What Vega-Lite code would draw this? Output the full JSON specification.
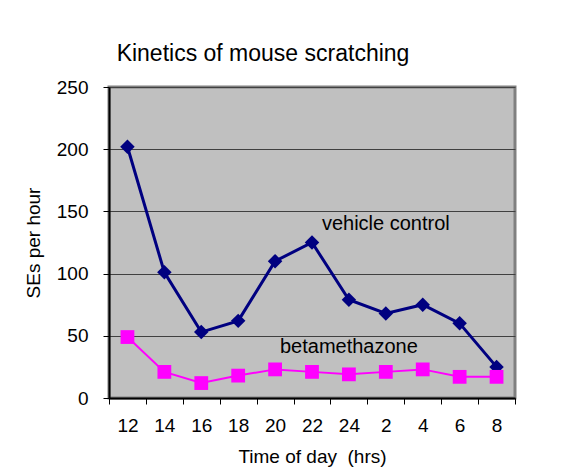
{
  "$schema": "https://vega.github.io/schema/vega-lite/v6.json",
  "width": 406,
  "height": 311,
  "autosize": {"type": "none"},
  "padding": {"left": 109, "top": 87, "right": 51, "bottom": 73},
  "background": "white",
  "config": {
    "font": "Liberation Sans",
    "view": {"fill": "#C0C0C0", "stroke": "#808080", "strokeWidth": 3}
  },
  "title": {
    "text": "Kinetics of mouse scratching",
    "fontSize": 23,
    "font": "Liberation Sans",
    "fontWeight": "normal",
    "color": "black",
    "anchor": "middle",
    "frame": "group",
    "dx": -49,
    "offset": 12
  },
  "datasets": {
    "series": [
      {"time": "12", "series": "vehicle control", "value": 202},
      {"time": "14", "series": "vehicle control", "value": 101},
      {"time": "16", "series": "vehicle control", "value": 53},
      {"time": "18", "series": "vehicle control", "value": 62},
      {"time": "20", "series": "vehicle control", "value": 110},
      {"time": "22", "series": "vehicle control", "value": 125},
      {"time": "24", "series": "vehicle control", "value": 79},
      {"time": "2", "series": "vehicle control", "value": 68},
      {"time": "4", "series": "vehicle control", "value": 75},
      {"time": "6", "series": "vehicle control", "value": 60},
      {"time": "8", "series": "vehicle control", "value": 25},
      {"time": "12", "series": "betamethazone", "value": 49},
      {"time": "14", "series": "betamethazone", "value": 21},
      {"time": "16", "series": "betamethazone", "value": 12},
      {"time": "18", "series": "betamethazone", "value": 18},
      {"time": "20", "series": "betamethazone", "value": 23},
      {"time": "22", "series": "betamethazone", "value": 21},
      {"time": "24", "series": "betamethazone", "value": 19},
      {"time": "2", "series": "betamethazone", "value": 21},
      {"time": "4", "series": "betamethazone", "value": 23},
      {"time": "6", "series": "betamethazone", "value": 17},
      {"time": "8", "series": "betamethazone", "value": 17}
    ],
    "labels": [
      {"time": "2", "value": 140, "label": "vehicle control"},
      {"time": "24", "value": 41, "label": "betamethazone"}
    ]
  },
  "encoding": {
    "x": {
      "field": "time",
      "type": "ordinal",
      "sort": ["12", "14", "16", "18", "20", "22", "24", "2", "4", "6", "8"],
      "scale": {"paddingInner": 0, "paddingOuter": 0},
      "axis": {
        "title": "Time of day\u00a0 (hrs)",
        "titleFont": "Liberation Sans",
        "titleFontSize": 19,
        "titleFontWeight": "normal",
        "titleColor": "black",
        "titlePadding": 12,
        "labelAngle": 0,
        "labelFontSize": 19,
        "labelColor": "black",
        "labelPadding": 12,
        "tickBand": "extent",
        "tickSize": 6,
        "tickColor": "black",
        "domainColor": "black",
        "domainWidth": 2,
        "grid": false
      }
    },
    "y": {
      "field": "value",
      "type": "quantitative",
      "scale": {"domain": [0, 250], "nice": false},
      "axis": {
        "title": "SEs per hour",
        "titleFont": "Liberation Sans",
        "titleFontSize": 19,
        "titleFontWeight": "normal",
        "titleColor": "black",
        "titlePadding": 13,
        "values": [0, 50, 100, 150, 200, 250],
        "labelFontSize": 19,
        "labelColor": "black",
        "labelPadding": 15,
        "tickSize": 6,
        "tickColor": "black",
        "domainColor": "black",
        "domainWidth": 2,
        "grid": true,
        "gridColor": "#404040",
        "gridWidth": 1
      }
    }
  },
  "layer": [
    {
      "data": {"name": "series"},
      "mark": {"type": "line", "point": false},
      "encoding": {
        "detail": {"field": "series"},
        "color": {
          "field": "series",
          "type": "nominal",
          "scale": {"domain": ["vehicle control", "betamethazone"], "range": ["#000080", "#FF00FF"]},
          "legend": null
        },
        "strokeWidth": {
          "field": "series",
          "type": "nominal",
          "scale": {"domain": ["vehicle control", "betamethazone"], "range": [3, 2]},
          "legend": null
        }
      }
    },
    {
      "data": {"name": "series"},
      "mark": {"type": "point", "filled": true, "opacity": 1},
      "encoding": {
        "color": {
          "field": "series",
          "type": "nominal",
          "scale": {"domain": ["vehicle control", "betamethazone"], "range": ["#000080", "#FF00FF"]},
          "legend": null
        },
        "shape": {
          "field": "series",
          "type": "nominal",
          "scale": {"domain": ["vehicle control", "betamethazone"], "range": ["diamond", "square"]},
          "legend": null
        },
        "size": {
          "field": "series",
          "type": "nominal",
          "scale": {"domain": ["vehicle control", "betamethazone"], "range": [210, 190]},
          "legend": null
        }
      }
    },
    {
      "data": {"name": "labels"},
      "mark": {"type": "text", "fontSize": 20, "color": "black", "align": "center", "baseline": "middle"},
      "encoding": {"text": {"field": "label"}}
    }
  ]
}
